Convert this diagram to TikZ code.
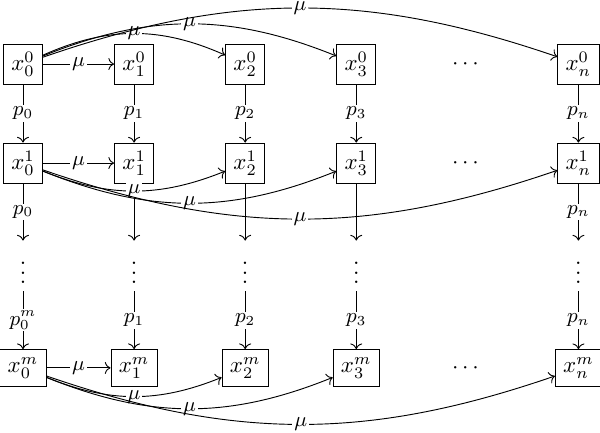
\documentclass[tikz,border=0pt]{standalone}
\usepackage{amsmath}
\usepackage{tikz}
\usetikzlibrary{arrows.meta}

\begin{document}
\begin{tikzpicture}[>=To,
    box/.style={draw,inner sep=3.4pt},
    lbl/.style={fill=white,inner sep=0.8pt,font=\small}]
        \useasboundingbox (-0.352,0.98) rectangle (8.83,-5.645);
        % 第0行
        \node [box] (x00) at (0,0) {$x^0_0$};
        \node [box] (x01) at (1.7,0) {$x^0_1$};
        \node [box] (x02) at (3.4,0) {$x^0_2$};
        \node [box] (x03) at (5.1,0) {$x^0_3$};
        \node (d0) at (6.8,0) {$\cdots$};
        \node [box] (x0n) at (8.5,0) {$x^0_n$};
        % 第1行
        \node [box] (x10) at (0,-1.515) {$x^1_0$};
        \node [box] (x11) at (1.7,-1.515) {$x^1_1$};
        \node [box] (x12) at (3.4,-1.515) {$x^1_2$};
        \node [box] (x13) at (5.1,-1.515) {$x^1_3$};
        \node (d1) at (6.8,-1.515) {$\cdots$};
        \node [box] (x1n) at (8.5,-1.515) {$x^1_n$};
        % 竖省略号
        \node (v0) at (0,-3.09) {$\vdots$};
        \node (v1) at (1.7,-3.09) {$\vdots$};
        \node (v2) at (3.4,-3.09) {$\vdots$};
        \node (v3) at (5.1,-3.09) {$\vdots$};
        \node (vn) at (8.5,-3.09) {$\vdots$};
        % 第m行
        \node [box] (xm0) at (0,-4.65) {$x^m_0$};
        \node [box] (xm1) at (1.7,-4.65) {$x^m_1$};
        \node [box] (xm2) at (3.4,-4.65) {$x^m_2$};
        \node [box] (xm3) at (5.1,-4.65) {$x^m_3$};
        \node (dm) at (6.8,-4.65) {$\cdots$};
        \node [box] (xmn) at (8.5,-4.65) {$x^m_n$};
        % 竖直箭头 p
        \draw [->] (x00) -- (x10) node[midway,lbl] {$p_0$};
        \draw [->] (x01) -- (x11) node[midway,lbl] {$p_1$};
        \draw [->] (x02) -- (x12) node[midway,lbl] {$p_2$};
        \draw [->] (x03) -- (x13) node[midway,lbl] {$p_3$};
        \draw [->] (x0n) -- (x1n) node[midway,lbl] {$p_n$};
        \draw [->] (x10) -- (v0) node[midway,lbl] {$p_0$};
        \draw [->] (x11) -- (v1);
        \draw [->] (x12) -- (v2);
        \draw [->] (x13) -- (v3);
        \draw [->] (x1n) -- (vn) node[midway,lbl] {$p_n$};
        \draw [->] (v0) -- (xm0) node[midway,lbl] {$p^m_0$};
        \draw [->] (v1) -- (xm1) node[midway,lbl] {$p_1$};
        \draw [->] (v2) -- (xm2) node[midway,lbl] {$p_2$};
        \draw [->] (v3) -- (xm3) node[midway,lbl] {$p_3$};
        \draw [->] (vn) -- (xmn) node[midway,lbl] {$p_n$};
        % 水平箭头 mu
        \draw [->] (x00) -- (x01) node[midway,lbl] {$\mu$};
        \draw [->] (x00) to[bend left=24] node[lbl] {$\mu$} (x02);
        \draw [->] (x00) to[bend left=22] node[lbl] {$\mu$} (x03);
        \draw [->] (x00) to[bend left=19] node[lbl] {$\mu$} (x0n);
        \draw [->] (x10) -- (x11) node[midway,lbl] {$\mu$};
        \draw [->] (x10) to[bend right=22] node[lbl] {$\mu$} (x12);
        \draw [->] (x10) to[bend right=22] node[lbl] {$\mu$} (x13);
        \draw [->] (x10) to[bend right=19] node[lbl] {$\mu$} (x1n);
        \draw [->] (xm0) -- (xm1) node[midway,lbl] {$\mu$};
        \draw [->] (xm0) to[bend right=22] node[lbl] {$\mu$} (xm2);
        \draw [->] (xm0) to[bend right=22] node[lbl] {$\mu$} (xm3);
        \draw [->] (xm0) to[bend right=19] node[lbl] {$\mu$} (xmn);
    \end{tikzpicture}
\end{document}
